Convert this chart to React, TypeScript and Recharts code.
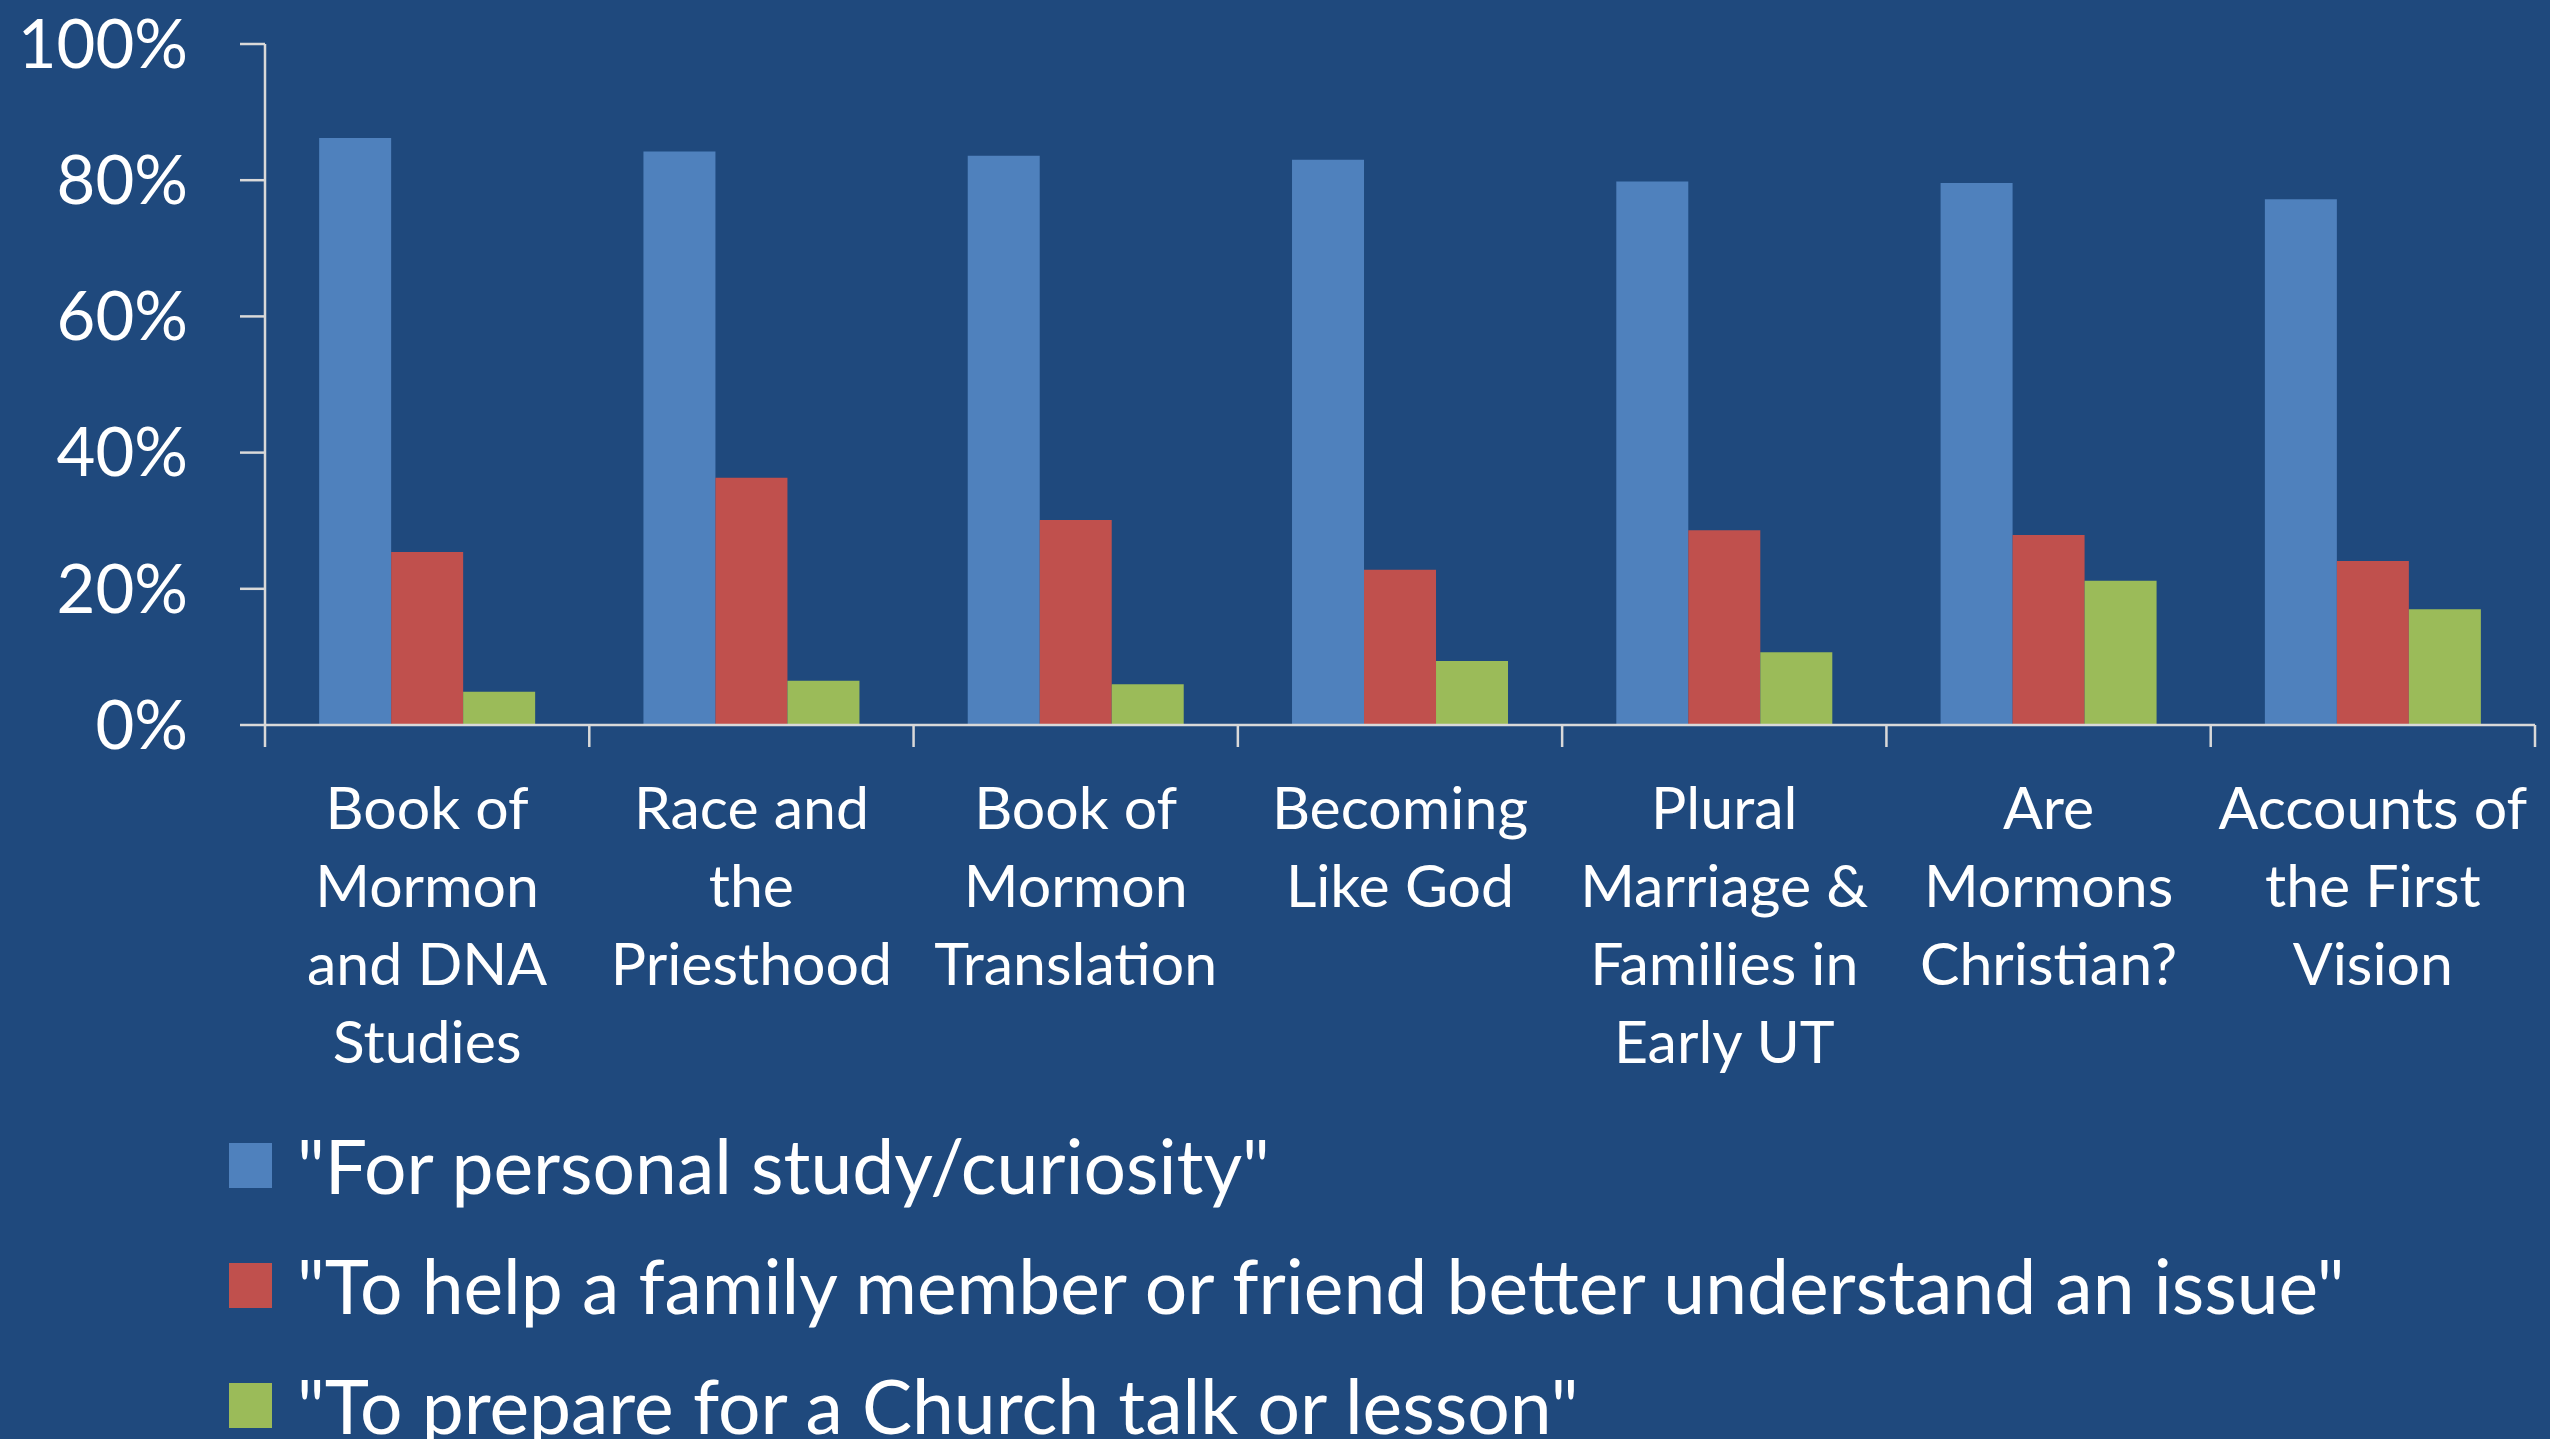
import { BarChart, Bar, XAxis, YAxis } from 'recharts'

const CATEGORY_LINES: string[][] = [
  ['Book of', 'Mormon', 'and DNA', 'Studies'],
  ['Race and', 'the', 'Priesthood'],
  ['Book of', 'Mormon', 'Translation'],
  ['Becoming', 'Like God'],
  ['Plural', 'Marriage &', 'Families in', 'Early UT'],
  ['Are', 'Mormons', 'Christian?'],
  ['Accounts of', 'the First', 'Vision'],
]

const personal = [86.2, 84.2, 83.6, 83.0, 79.8, 79.6, 77.2]
const helpOthers = [25.4, 36.3, 30.1, 22.8, 28.6, 27.9, 24.1]
const churchTalk = [4.9, 6.5, 6.0, 9.4, 10.7, 21.2, 17.0]

const Y_TICKS = [0, 20, 40, 60, 80, 100]

const SERIES = [
  { key: 'personal', label: '"For personal study/curiosity"', color: '#4F81BD' },
  { key: 'helpOthers', label: '"To help a family member or friend better understand an issue"', color: '#C0504D' },
  { key: 'churchTalk', label: '"To prepare for a Church talk or lesson"', color: '#9BBB59' },
]

const data = CATEGORY_LINES.map((lines, i) => ({
  name: lines.join(' '),
  personal: personal[i],
  helpOthers: helpOthers[i],
  churchTalk: churchTalk[i],
}))

const W = 2550
const H = 1439
const MARGIN = { top: 44, right: 15, left: 0, bottom: 384 }
const Y_AXIS_W = 265
const BAND = (W - MARGIN.left - MARGIN.right - Y_AXIS_W) / CATEGORY_LINES.length
const FONT = 'Lato, "Open Sans", sans-serif'
const AXIS_COLOR = '#D9D9D9'

// category labels sit under the band, tick marks go on the band edges (Excel style)
function CategoryTick(props: any) {
  const { x, y, index } = props
  const lines = CATEGORY_LINES[index] || []
  const top = y - 22
  return (
    <g>
      <line x1={x - BAND / 2} x2={x - BAND / 2} y1={top} y2={top + 22} stroke={AXIS_COLOR} strokeWidth={2.5} />
      {index === CATEGORY_LINES.length - 1 && (
        <line x1={x + BAND / 2} x2={x + BAND / 2} y1={top} y2={top + 22} stroke={AXIS_COLOR} strokeWidth={2.5} />
      )}
      {lines.map((ln, i) => (
        <text key={i} x={x} y={y + 82 + i * 78} textAnchor="middle" fill="#FFFFFF" fontSize={59} fontFamily={FONT}>
          {ln}
        </text>
      ))}
    </g>
  )
}

export default function App() {
  return (
    <div style={{ position: 'absolute', left: 0, top: 0, width: W, height: H, background: '#1F497D', overflow: 'hidden' }}>
      <BarChart width={W} height={H} data={data} margin={MARGIN} barCategoryGap="16.7%" barGap={0}>
        <XAxis
          dataKey="name"
          interval={0}
          height={330}
          tickLine={false}
          tickSize={22}
          tickMargin={0}
          axisLine={{ stroke: AXIS_COLOR, strokeWidth: 2.5 }}
          tick={<CategoryTick />}
        />
        <YAxis
          width={Y_AXIS_W}
          domain={[0, 100]}
          ticks={Y_TICKS}
          tickFormatter={(v) => `${v}%`}
          tickSize={25}
          tickMargin={52}
          axisLine={{ stroke: AXIS_COLOR, strokeWidth: 2.5 }}
          tickLine={{ stroke: AXIS_COLOR, strokeWidth: 2.5 }}
          tick={{ fill: '#FFFFFF', fontSize: 67, fontFamily: FONT }}
        />
        {SERIES.map((s) => (
          <Bar key={s.key} dataKey={s.key} fill={s.color} isAnimationActive={false} />
        ))}
      </BarChart>
      <div style={{ position: 'absolute', left: 229, top: 1105, fontFamily: FONT, color: '#FFFFFF', fontSize: 75 }}>
        {SERIES.map((s) => (
          <div key={s.key} style={{ display: 'flex', alignItems: 'center', height: 120 }}>
            <div style={{ width: 43, height: 45, background: s.color, marginRight: 25 }} />
            <span style={{ whiteSpace: 'nowrap' }}>{s.label}</span>
          </div>
        ))}
      </div>
    </div>
  )
}
